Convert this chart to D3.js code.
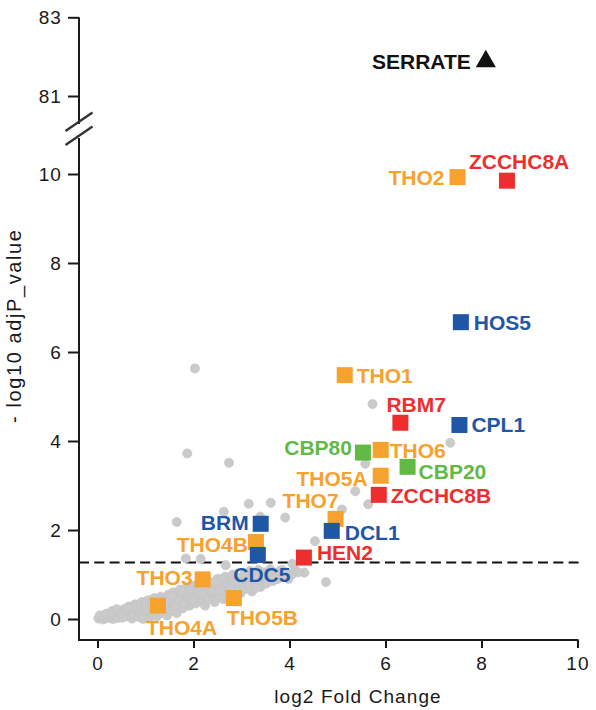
<!DOCTYPE html>
<html>
<head>
<meta charset="utf-8">
<script src="https://cdn.jsdelivr.net/npm/d3@7"></script>
<style>
  html, body { margin: 0; padding: 0; background: #fff; }
  svg { display: block; }
  text { font-family: "Liberation Sans", Arial, Helvetica, sans-serif; }
</style>
</head>
<body>
<svg id="chart" width="596" height="710"></svg>
<script>
// ---------------- DATA ----------------
const genes     = ["SERRATE","THO2","ZCCHC8A","HOS5","THO1","RBM7","CPL1","CBP80","THO6","CBP20","THO5A","ZCCHC8B","THO7","DCL1","BRM","THO4B","CDC5","HEN2","THO3","THO5B","THO4A"];
const log2FC    = [8.09, 7.50, 8.53, 7.57, 5.15, 6.31, 7.54, 5.53, 5.90, 6.46, 5.90, 5.86, 4.96, 4.88, 3.40, 3.30, 3.34, 4.30, 2.19, 2.84, 1.26];
const negLogP   = [81.88, 9.93, 9.85, 6.67, 5.48, 4.41, 4.36, 3.74, 3.80, 3.42, 3.22, 2.79, 2.25, 1.98, 2.14, 1.73, 1.44, 1.38, 0.89, 0.47, 0.30];
const geneGroup = ["bait","THO","NEXT","blue","THO","NEXT","blue","CBC","THO","CBC","THO","NEXT","THO","blue","blue","THO","blue","NEXT","THO","THO","THO"];

const xTicks = [0, 2, 4, 6, 8, 10];
const yTicksLow = [0, 2, 4, 6, 8, 10];
const yTicksHigh = [81, 83];
const threshold = 1.27;

// other (unlabelled) proteins: log2FC and -log10 adjP
const otherX = [2.03,1.87,2.74,5.73,7.35,5.58,5.37,5.64,5.09,3.91,4.53,2.63,3.15,3.61,1.65,3.39,4.31,4.76,4.06,1.84,2.15,2.67,
  0.02,0.08,0.12,0.15,0.20,0.24,0.28,0.32,0.35,0.38,0.42,0.45,0.48,
  0.52,0.55,0.58,0.62,0.65,0.68,0.72,0.75,0.78,0.82,0.85,0.88,0.92,0.95,0.98,
  1.02,1.05,1.08,1.10,1.14,1.18,1.20,1.24,1.28,1.32,1.35,1.38,1.42,1.45,1.48,
  1.52,1.55,1.58,1.62,1.65,1.68,1.72,1.75,1.78,1.82,1.85,1.88,1.92,1.95,1.98,
  2.02,2.05,2.08,2.12,2.15,2.20,2.24,2.28,2.32,2.35,2.40,2.44,2.48,2.50,
  2.54,2.58,2.62,2.66,2.70,2.74,2.78,2.82,2.86,2.90,2.94,2.98,
  3.02,3.06,3.10,3.14,3.18,3.22,3.26,3.30,3.35,3.40,3.44,3.48,
  3.52,3.56,3.60,3.65,3.70,3.75,3.80,3.86,3.92,3.98,4.05,4.12,
  0.05,0.18,0.30,0.40,0.50,0.60,0.70,0.80,0.90,1.00,0.95,1.15,1.25,1.30,1.40,1.50,1.55,1.60,1.70,1.75,
  1.80,1.90,1.95,2.00,2.10,2.18,2.25,2.30,2.38,2.45,2.55,2.60,2.68,2.75,2.85,2.95,3.05,3.15,3.20,3.30,
  3.45,3.55,3.70,3.85,3.95,4.18];
const otherY = [5.63,3.72,3.51,4.83,3.96,3.49,2.87,2.58,2.46,2.28,1.75,2.41,2.59,2.61,2.18,2.30,1.04,0.83,1.24,1.36,1.35,1.21,
  0.01,0.03,-0.01,0.06,0.02,0.10,0.04,0.00,0.13,0.07,0.02,0.17,0.09,
  0.03,0.22,0.12,0.06,0.28,0.17,0.01,0.10,0.33,0.22,0.05,0.15,0.38,0.27,0.09,
  0.18,0.42,0.02,0.30,0.12,0.47,0.22,0.06,0.36,0.50,0.15,0.28,0.42,0.08,0.55,
  0.33,0.20,0.60,0.45,0.13,0.30,0.66,0.52,0.24,0.40,0.70,0.58,0.30,0.46,0.75,
  0.62,0.35,0.52,0.80,0.42,0.68,0.30,0.58,0.85,0.48,0.72,0.38,0.62,0.90,
  0.52,0.78,0.45,0.95,0.65,0.55,0.85,1.00,0.60,0.75,0.92,0.58,
  0.82,1.02,0.68,0.90,1.08,0.62,0.78,0.96,1.10,0.72,0.88,1.05,
  0.80,0.95,1.12,0.85,1.00,0.90,1.08,0.95,1.05,0.90,1.00,1.10,
  0.08,0.12,0.18,0.22,0.15,0.20,0.25,0.28,0.30,0.34,0.00,0.38,0.44,0.25,0.35,0.45,0.52,0.30,0.42,0.60,
  0.35,0.52,0.65,0.45,0.60,0.55,0.75,0.45,0.62,0.80,0.65,0.90,0.75,0.68,0.85,0.72,0.70,0.75,0.92,0.70,
  0.95,0.85,0.90,1.10,1.00,1.05];

// ---------------- STYLE / LAYOUT ----------------
const groupColor = { bait: "#111111", THO: "#F7A12E", NEXT: "#EC2F2E", blue: "#1F56A6", CBC: "#62B946" };
// label placement: [anchor, dx, dy] relative to marker centre
const labelLayout = {
  SERRATE: ["end", -15, 8], THO2: ["end", -13, 8], ZCCHC8A: ["start", -38, -12],
  HOS5: ["start", 13, 8], THO1: ["start", 12, 8], RBM7: ["start", -14, -11],
  CPL1: ["start", 12, 7], CBP80: ["end", -11, 2], THO6: ["start", 9, 8],
  CBP20: ["start", 11, 12], THO5A: ["end", -13, 10], ZCCHC8B: ["start", 12, 8],
  THO7: ["end", 3, -11], DCL1: ["start", 13, 9], BRM: ["end", -12, 6],
  THO4B: ["end", -8, 10], CDC5: ["middle", 4, 27], HEN2: ["start", 13, 2],
  THO3: ["end", -10, 6], THO5B: ["start", -7, 27], THO4A: ["start", -12, 29]
};

const svg = d3.select("#chart");

const axisX = 79;
const x = d3.scaleLinear().domain([0, 10]).range([97.5, 577.5]);
const yLow = d3.scaleLinear().domain([0, 10]).range([619, 174]);
const yHigh = d3.scaleLinear().domain([81, 83]).range([96, 17.3]);
const xBottom = 640, lowTop = 138, highBottom = 124;

const y = v => v > 50 ? yHigh(v) : yLow(v);

const axisColor = "#1a1a1a";
const tickFont = "19px";
const ls = "1.1px";

// axes lines
svg.append("line").attr("x1", axisX).attr("x2", axisX).attr("y1", yHigh(83)).attr("y2", highBottom)
  .attr("stroke", axisColor).attr("stroke-width", 2);
svg.append("line").attr("x1", axisX).attr("x2", axisX).attr("y1", lowTop).attr("y2", xBottom + 1)
  .attr("stroke", axisColor).attr("stroke-width", 2);
svg.append("line").attr("x1", axisX - 1).attr("x2", x(10) + 1).attr("y1", xBottom).attr("y2", xBottom)
  .attr("stroke", axisColor).attr("stroke-width", 2);

// break marks
[-9.5, 4.5].forEach(off => {
  const cy = (highBottom + lowTop) / 2 + off;
  svg.append("line").attr("x1", axisX - 13.5).attr("y1", cy + 9.5)
    .attr("x2", axisX + 13.5).attr("y2", cy - 8.9)
    .attr("stroke", "#333").attr("stroke-width", 2.4);
});

// y ticks
function yAxisTicks(scale, ticks) {
  const g = svg.append("g").attr("transform", `translate(${axisX},0)`)
    .call(d3.axisLeft(scale).tickValues(ticks).tickSize(11).tickSizeOuter(0).tickPadding(6).tickFormat(d3.format("d")));
  g.select(".domain").remove();
  g.selectAll(".tick line").attr("stroke", axisColor).attr("stroke-width", 2);
  g.selectAll(".tick text").attr("font-size", tickFont).attr("fill", axisColor)
    .style("letter-spacing", ls).attr("font-family", null);
}
yAxisTicks(yHigh, yTicksHigh);
yAxisTicks(yLow, yTicksLow);

// x ticks
const gx = svg.append("g").attr("transform", `translate(0,${xBottom})`)
  .call(d3.axisBottom(x).tickValues(xTicks).tickSize(8).tickSizeOuter(0).tickPadding(9).tickFormat(d3.format("d")));
gx.select(".domain").remove();
gx.selectAll(".tick line").attr("stroke", axisColor).attr("stroke-width", 2);
gx.selectAll(".tick text").attr("font-size", tickFont).attr("fill", axisColor)
  .style("letter-spacing", ls).attr("font-family", null);

// axis titles
svg.append("text").attr("x", 358).attr("y", 703).attr("text-anchor", "middle")
  .attr("font-size", tickFont).style("letter-spacing", ls).attr("fill", axisColor).text("log2 Fold Change");
svg.append("text").attr("transform", "translate(21,423) rotate(-90)").attr("text-anchor", "start")
  .attr("font-size", "20px").style("letter-spacing", "1.6px").attr("fill", axisColor).text("- log10 adjP_value");

// threshold line
svg.append("line").attr("x1", axisX).attr("x2", 583).attr("y1", yLow(threshold)).attr("y2", yLow(threshold))
  .attr("stroke", "#111").attr("stroke-width", 2).attr("stroke-dasharray", "10,5.3");

// background points
svg.append("g").selectAll("circle").data(otherX.map((v, i) => [v, otherY[i]])).join("circle")
  .attr("cx", d => x(d[0])).attr("cy", d => yLow(d[1])).attr("r", 4.6)
  .attr("fill", "#cacaca").attr("stroke", "#c2c2c2").attr("stroke-width", 0.6);

// highlighted genes
const hits = genes.map((g, i) => ({ name: g, fc: log2FC[i], p: negLogP[i], group: geneGroup[i] }));
const order = ["THO", "NEXT", "CBC", "blue", "bait"];
const drawn = hits.slice().sort((a, b) => order.indexOf(a.group) - order.indexOf(b.group));
const mk = svg.append("g");
drawn.forEach(d => {
  if (d.group === "bait") {
    mk.append("path").attr("d", d3.symbol(d3.symbolTriangle, 175)())
      .attr("transform", `translate(${x(d.fc)},${y(d.p)})`).attr("fill", groupColor.bait);
  } else {
    mk.append("rect").attr("x", x(d.fc) - 8).attr("y", y(d.p) - 8).attr("width", 16).attr("height", 16)
      .attr("fill", groupColor[d.group]);
  }
});
const lab = svg.append("g");
hits.forEach(d => {
  const [anchor, dx, dy] = labelLayout[d.name];
  lab.append("text").attr("x", x(d.fc) + dx).attr("y", y(d.p) + dy).attr("text-anchor", anchor)
    .attr("font-size", "21px").attr("font-weight", "bold").attr("fill", groupColor[d.group]).text(d.name);
});
</script>
</body>
</html>
